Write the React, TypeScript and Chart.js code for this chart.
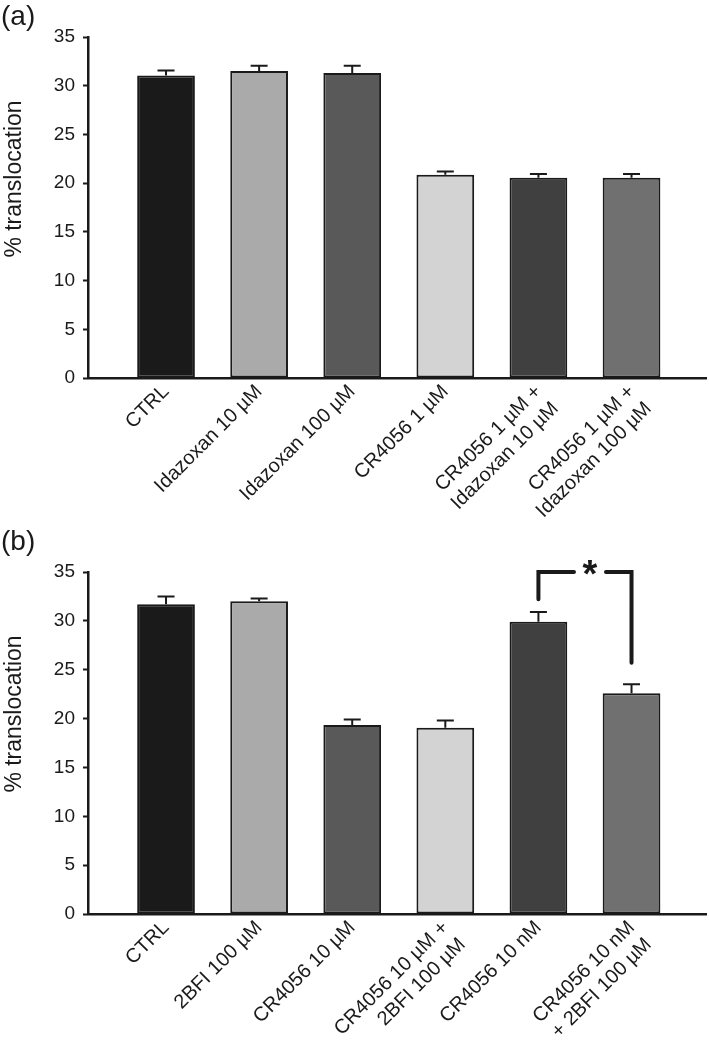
import React, { useEffect, useRef } from 'react';
import { Chart, registerables } from 'chart.js';

Chart.register(...registerables);

// ---------- data ----------
const labelsA: (string | string[])[] = [
  'CTRL',
  'Idazoxan 10 µM',
  'Idazoxan 100 µM',
  'CR4056 1 µM',
  ['CR4056 1 µM +', 'Idazoxan 10 µM'],
  ['CR4056 1 µM +', 'Idazoxan 100 µM'],
];
const valuesA = [31.05, 31.5, 31.3, 20.85, 20.55, 20.55];
const errorsA = [0.5, 0.55, 0.75, 0.35, 0.4, 0.4];

const labelsB: (string | string[])[] = [
  'CTRL',
  '2BFI 100 µM',
  'CR4056 10 µM',
  ['CR4056 10 µM +', '2BFI 100 µM'],
  'CR4056 10 nM',
  ['CR4056 10 nM', '+ 2BFI 100 µM'],
];
const valuesB = [31.7, 32.0, 19.35, 19.05, 29.9, 22.6];
const errorsB = [0.8, 0.3, 0.55, 0.75, 1.0, 0.9];

const yTickValues = [0, 5, 10, 15, 20, 25, 30, 35];

// significance bracket for panel (b): pair of bar indices, top level, end levels
const sigPairB = [4, 5];
const sigTopB = 35.0;
const sigEndsB = [32.2, 25.7];
const sigMarkB = '*';

// ---------- styles ----------
const barColors = ['#1a1a1a', '#aaaaaa', '#595959', '#d3d3d3', '#404040', '#707070'];
const ink = '#1a1a1a';
const FONT = '"Liberation Sans", Arial, Helvetica, sans-serif';

type PanelProps = {
  tag: string;
  labels: (string | string[])[];
  values: number[];
  errors: number[];
  width: number;
  height: number;
  top: number;
  padTop: number;
  xAxisHeight: number;
  sig?: { pair: number[]; top: number; ends: number[]; mark: string };
};

function Panel(props: PanelProps) {
  const ref = useRef<HTMLCanvasElement | null>(null);

  useEffect(() => {
    const canvas = ref.current;
    if (!canvas) return;
    const { labels, values, errors, tag, sig } = props;

    const errorBars = {
      id: 'errorBars',
      afterDatasetsDraw(chart: any) {
        const ctx = chart.ctx;
        const meta = chart.getDatasetMeta(0);
        const ys = chart.scales.y;
        ctx.save();
        ctx.strokeStyle = ink;
        ctx.lineWidth = 2;
        meta.data.forEach((bar: any, i: number) => {
          const x = bar.x;
          const yb = ys.getPixelForValue(values[i]);
          const yt = ys.getPixelForValue(values[i] + errors[i]);
          ctx.beginPath();
          ctx.moveTo(x, yb);
          ctx.lineTo(x, yt);
          ctx.moveTo(x - 8.5, yt);
          ctx.lineTo(x + 8.5, yt);
          ctx.stroke();
        });
        ctx.restore();
      },
    };

    const decorations = {
      id: 'decorations',
      afterDraw(chart: any) {
        const ctx = chart.ctx;
        const area = chart.chartArea;
        ctx.save();
        ctx.fillStyle = ink;
        // panel tag
        ctx.font = `28px ${FONT}`;
        ctx.textAlign = 'left';
        ctx.textBaseline = 'alphabetic';
        ctx.fillText(tag, 1, 25);
        // y axis title
        ctx.save();
        ctx.translate(15, area.top + 142);
        ctx.rotate(-Math.PI / 2);
        ctx.font = `23px ${FONT}`;
        ctx.textAlign = 'center';
        ctx.textBaseline = 'middle';
        ctx.fillText('% translocation', 0, 0);
        ctx.restore();
        // significance bracket
        if (sig) {
          const meta = chart.getDatasetMeta(0);
          const ys = chart.scales.y;
          const xl = meta.data[sig.pair[0]].x;
          const xr = meta.data[sig.pair[1]].x;
          const yt = ys.getPixelForValue(sig.top);
          const yl = ys.getPixelForValue(sig.ends[0]);
          const yr = ys.getPixelForValue(sig.ends[1]);
          const cx = (xl + xr) / 2 + 5;
          const gap = 16;
          ctx.strokeStyle = ink;
          ctx.lineWidth = 4;
          ctx.lineCap = 'round';
          ctx.lineJoin = 'miter';
          ctx.beginPath();
          ctx.moveTo(xl, yl);
          ctx.lineTo(xl, yt);
          ctx.lineTo(cx - gap, yt);
          ctx.moveTo(cx + gap, yt);
          ctx.lineTo(xr, yt);
          ctx.lineTo(xr, yr);
          ctx.stroke();
          const fs = 38;
          ctx.font = `bold ${fs}px ${FONT}`;
          ctx.textAlign = 'center';
          ctx.textBaseline = 'alphabetic';
          ctx.fillText(sig.mark, cx, yt - 7 + 0.57 * fs);
        }
        ctx.restore();
      },
    };

    const chart = new Chart(canvas, {
      type: 'bar',
      data: {
        datasets: [
          {
            data: values.map((v, i) => ({ x: i, y: v })),
            backgroundColor: barColors,
            borderColor: ink,
            borderWidth: 2,
            borderSkipped: false,
            barPercentage: 0.62,
            categoryPercentage: 1,
          } as any,
        ],
      },
      options: {
        responsive: false,
        animation: false,
        events: [],
        layout: { padding: { left: 0, right: 3, top: props.padTop, bottom: 0 } },
        plugins: { legend: { display: false }, tooltip: { enabled: false }, title: { display: false } },
        scales: {
          x: {
            type: 'linear',
            min: -0.838,
            max: 5.8,
            offset: false,
            afterBuildTicks: (s: any) => {
              s.ticks = labels.map((_, i) => ({ value: i }));
            },
            afterFit: (s: any) => {
              s.height = props.xAxisHeight;
            },
            grid: { display: true, drawOnChartArea: false, drawTicks: false, offset: false },
            border: { display: true, color: ink, width: 2.5 },
            ticks: {
              autoSkip: false,
              minRotation: 45,
              maxRotation: 45,
              padding: 2,
              color: ink,
              font: { family: FONT, size: 20, lineHeight: 1.2 },
              callback: (_v: any, i: number) => labels[i] as any,
            },
          },
          y: {
            type: 'linear',
            min: 0,
            max: 35,
            afterBuildTicks: (s: any) => {
              s.ticks = yTickValues.map((v) => ({ value: v }));
            },
            afterFit: (s: any) => {
              s.width = 88;
            },
            grid: {
              display: true,
              drawOnChartArea: false,
              drawTicks: true,
              tickLength: 5,
              tickWidth: 2,
              tickColor: ink,
            },
            border: { display: true, color: ink, width: 2.5 },
            ticks: {
              padding: 8,
              color: ink,
              font: { family: FONT, size: 19 },
            },
          },
        },
      } as any,
      plugins: [errorBars, decorations],
    });

    return () => chart.destroy();
  }, []);

  return (
    <canvas
      ref={ref}
      width={props.width}
      height={props.height}
      style={{ position: 'absolute', left: 0, top: props.top, width: props.width, height: props.height }}
    />
  );
}

export default function App() {
  return (
    <div style={{ position: 'absolute', left: 0, top: 0, width: 709, height: 1045, background: '#fff', overflow: 'hidden' }}>
      <Panel
        tag="(a)"
        labels={labelsA}
        values={valuesA}
        errors={errorsA}
        width={709}
        height={525}
        top={0}
        padTop={37}
        xAxisHeight={525 - 378}
      />
      <Panel
        tag="(b)"
        labels={labelsB}
        values={valuesB}
        errors={errorsB}
        width={709}
        height={520}
        top={525}
        padTop={47}
        xAxisHeight={520 - 389}
        sig={{ pair: sigPairB, top: sigTopB, ends: sigEndsB, mark: sigMarkB }}
      />
    </div>
  );
}
